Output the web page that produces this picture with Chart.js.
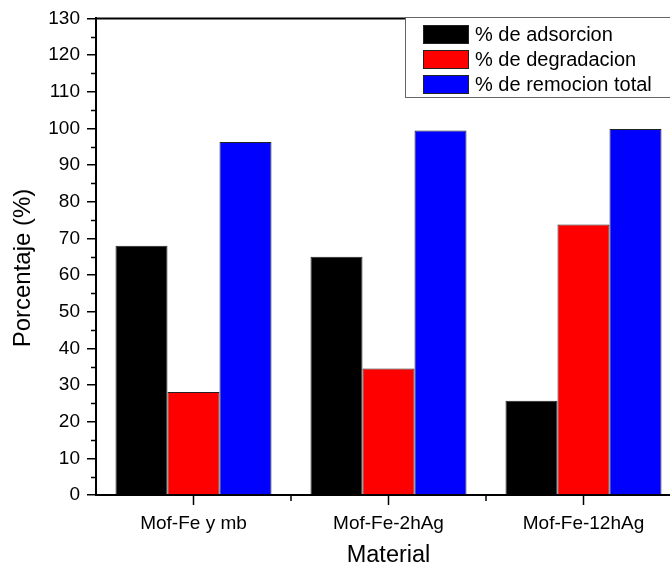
<!DOCTYPE html>
<html lang="es">
<head>
    <meta charset="UTF-8">
    <title>Porcentaje por material</title>
    <script src="https://cdn.jsdelivr.net/npm/chart.js"></script>
    <style>
        html, body { margin: 0; padding: 0; background: #fff; overflow: hidden; width: 670px; height: 571px; }
        #wrap { width: 690px; height: 571px; }
    </style>
</head>
<body>
    <div id="wrap"><canvas id="grafico" width="690" height="571"></canvas></div>
    <script>
        // Datos
        const materiales = ['Mof-Fe y mb', 'Mof-Fe-2hAg', 'Mof-Fe-12hAg'];
        const adsorcion = [68.0, 65.0, 25.7];
        const degradacion = [28.1, 34.5, 73.8];
        const remocion = [96.3, 99.4, 99.8];
        const etiquetas = ['% de adsorcion', '% de degradacion', '% de remocion total'];
        const colores = ['#000000', '#ff0000', '#0000ff'];
        const tituloY = 'Porcentaje (%)';

        const fuente = '"Liberation Sans", Arial, sans-serif';

        // Marcas menores, linea superior, titulo Y y leyenda con recuadro
        const ejesPlugin = {
            id: 'ejes',
            afterDraw(chart) {
                const ctx = chart.ctx;
                const area = chart.chartArea;
                const x = chart.scales.x;
                const y = chart.scales.y;
                ctx.save();
                ctx.strokeStyle = '#000';
                ctx.lineWidth = 2;
                // linea superior
                ctx.beginPath();
                ctx.moveTo(area.left - 1, area.top);
                ctx.lineTo(area.right, area.top);
                ctx.stroke();
                // menores eje y
                ctx.lineWidth = 1.5;
                for (let v = 5; v < 130; v += 10) {
                    const py = Math.round(y.getPixelForValue(v)) + 0.5;
                    ctx.beginPath();
                    ctx.moveTo(area.left - 5, py);
                    ctx.lineTo(area.left, py);
                    ctx.stroke();
                }
                // marcas eje x
                for (let i = 0; i < materiales.length; i++) {
                    const cx = x.getPixelForValue(i);
                    ctx.beginPath();
                    ctx.moveTo(cx, area.bottom);
                    ctx.lineTo(cx, area.bottom + 10);
                    ctx.stroke();
                    const bx = cx + (x.getPixelForValue(1) - x.getPixelForValue(0)) / 2;
                    ctx.beginPath();
                    ctx.moveTo(bx, area.bottom);
                    ctx.lineTo(bx, area.bottom + 6);
                    ctx.stroke();
                }
                // titulo eje y
                ctx.save();
                ctx.translate(23, 268);
                ctx.rotate(-Math.PI / 2);
                ctx.font = '24px ' + fuente;
                ctx.fillStyle = '#000';
                ctx.textAlign = 'center';
                ctx.textBaseline = 'middle';
                ctx.fillText(tituloY, 0, 0);
                ctx.restore();
                // leyenda
                const lx = 405, ly = 17, lw = 290, lh = 80;
                ctx.fillStyle = '#fff';
                ctx.fillRect(lx, ly, lw, lh);
                ctx.strokeStyle = '#666';
                ctx.lineWidth = 1;
                ctx.strokeRect(lx + 0.5, ly + 0.5, lw, lh);
                ctx.font = '20px ' + fuente;
                ctx.textBaseline = 'middle';
                chart.data.datasets.forEach((ds, i) => {
                    const ry = 34 + i * 25;
                    ctx.fillStyle = ds.backgroundColor;
                    ctx.fillRect(423, ry - 9, 45, 18);
                    ctx.strokeStyle = '#222';
                    ctx.strokeRect(423.5, ry - 8.5, 45, 18);
                    ctx.fillStyle = '#000';
                    ctx.fillText(ds.label, 475, ry + 1);
                });
                ctx.restore();
            }
        };

        new Chart(document.getElementById('grafico').getContext('2d'), {
            type: 'bar',
            data: {
                labels: materiales,
                datasets: [
                    { label: etiquetas[0], data: adsorcion, backgroundColor: colores[0] },
                    { label: etiquetas[1], data: degradacion, backgroundColor: colores[1] },
                    { label: etiquetas[2], data: remocion, backgroundColor: colores[2] }
                ].map(d => Object.assign(d, { borderColor: '#222', borderWidth: 1, barPercentage: 1, categoryPercentage: 0.8 }))
            },
            options: {
                responsive: false,
                animation: false,
                layout: { padding: { top: 18, right: 9, left: 0, bottom: 0 } },
                plugins: { legend: { display: false }, tooltip: { enabled: false } },
                scales: {
                    x: {
                        grid: { display: false },
                        border: { display: true, color: '#000', width: 2 },
                        ticks: { color: '#000', font: { family: fuente, size: 19 }, padding: 9 },
                        title: { display: true, text: 'Material', color: '#000', font: { family: fuente, size: 23.5 }, padding: { top: 4, bottom: 1 } },
                        afterFit(s) { s.height = 76; }
                    },
                    y: {
                        min: 0,
                        max: 130,
                        grid: { drawOnChartArea: false, drawTicks: true, tickLength: 9, color: '#000', lineWidth: 1.5 },
                        border: { display: true, color: '#000', width: 2 },
                        ticks: { stepSize: 10, color: '#000', font: { family: fuente, size: 19 }, padding: 7 },
                        afterFit(s) { s.width = 96; }
                    }
                }
            },
            plugins: [ejesPlugin]
        });
    </script>
</body>
</html>
